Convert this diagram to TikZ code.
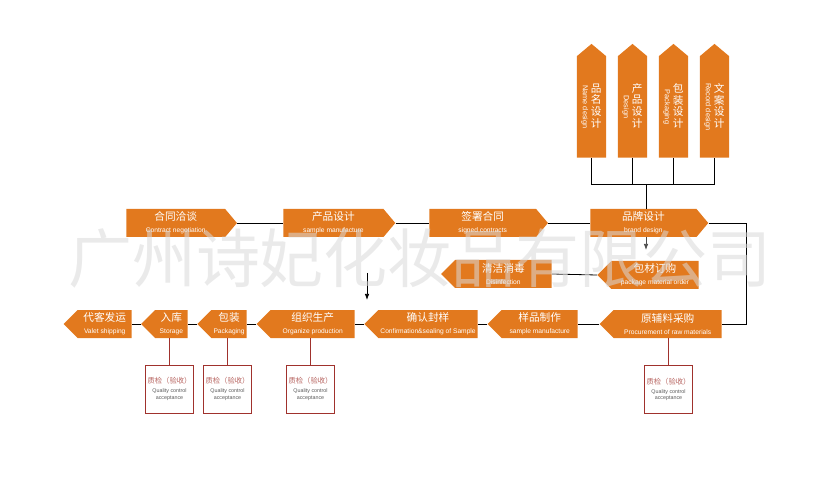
\documentclass[tikz,border=0pt]{standalone}
\usepackage{fontspec}
\setmainfont{Liberation Sans}
\newfontfamily\cjk{Noto Sans CJK SC}
\usetikzlibrary{shapes.symbols,arrows.meta}
\definecolor{brandorange}{RGB}{226,121,30}
\definecolor{qcred}{RGB}{160,50,45}
\newcommand{\steptext}[2]{{\cjk\fontsize{8}{9}\selectfont #1}\\#2}
\newcommand{\qctext}{{\cjk\fontsize{5.5}{6}\selectfont\color{qcred!75}质检（验收）}\\[1.5pt]Quality control\\acceptance}
\newcommand{\vtext}[2]{$\vcenter{\hbox{\rotatebox{-90}{\fontsize{5.5}{6}\selectfont #2}}}$\hspace{2pt}$\vcenter{\hbox{\cjk\fontsize{8}{8.6}\selectfont\renewcommand{\arraystretch}{0.85}\begin{tabular}{@{}c@{}}#1\end{tabular}}}$}

\begin{document}
\begin{tikzpicture}[x=0.75pt, y=-0.75pt, >={Latex[length=1.6mm]},
  stepR/.style={signal, signal to=east, signal pointer angle=100, fill=brandorange, text=white, inner sep=0pt, minimum height=21pt, align=center, font=\fontsize{5}{9}\selectfont},
  stepL/.style={signal, signal to=west, signal pointer angle=90, fill=brandorange, text=white, inner sep=0pt, minimum height=21pt, align=center, font=\fontsize{5}{9}\selectfont},
  stepV/.style={signal, signal to=north, signal pointer angle=100, fill=brandorange, text=white, inner sep=0pt, minimum width=22pt, minimum height=82.5pt},
  qc/.style={draw=qcred, fill=white, inner sep=0pt, minimum width=36pt, minimum height=36pt, align=center, text=gray!70!black, font=\fontsize{4}{5}\selectfont},
  link/.style={draw=black, line width=0.6pt},
  qclink/.style={draw=qcred, line width=0.6pt}]
\useasboundingbox (0,0) rectangle (836,499);

% design branches on top
\node[stepV, anchor=south] (vname) at (591.5,158) {\vtext{品\\名\\设\\计}{Name design}};
\node[stepV, anchor=south] (vprod) at (632.5,158) {\vtext{产\\品\\设\\计}{Design}};
\node[stepV, anchor=south] (vpack) at (673.5,158) {\vtext{包\\装\\设\\计}{Packaging}};
\node[stepV, anchor=south] (vrecord) at (714.5,158) {\vtext{文\\案\\设\\计}{Record design}};
\coordinate (bus) at (646,184);

% first row
\node[stepR, minimum width=83pt, anchor=west] (contract) at (126,223) {\steptext{合同洽谈}{Contract negotiation}};
\node[stepR, minimum width=84pt, anchor=west] (sampleA) at (283,223) {\steptext{产品设计}{sample manufacture}};
\node[stepR, minimum width=89pt, anchor=west] (signed) at (429,223) {\steptext{签署合同}{signed contracts}};
\node[stepR, minimum width=88.5pt, anchor=west] (brand) at (590,223) {\steptext{品牌设计}{brand design}};
\coordinate (rloop) at (746,223);
\coordinate (drop) at (646,250);

% second row
\node[stepL, minimum width=83pt, anchor=east] (disinfect) at (552,274) {\steptext{清洁消毒}{Disinfection}};
\node[stepL, minimum width=76pt, anchor=east] (pkgorder) at (699,275) {\steptext{包材订购}{package material order}};
\coordinate (hintA) at (367,273);
\coordinate (hintB) at (367,300);

% third row
\node[stepL, minimum width=51pt, anchor=east] (valet) at (132,324) {\steptext{代客发运}{Valet shipping}};
\node[stepL, minimum width=35pt, anchor=east] (storage) at (188,324) {\steptext{入库}{Storage}};
\node[stepL, minimum width=37pt, anchor=east] (packaging) at (247,324) {\steptext{包装}{Packaging}};
\node[stepL, minimum width=73.5pt, anchor=east] (organize) at (355,324) {\steptext{组织生产}{Organize production}};
\node[stepL, minimum width=85pt, anchor=east] (confirm) at (478,324) {\steptext{确认封样}{Confirmation\&sealing of Sample}};
\node[stepL, minimum width=67.5pt, anchor=east] (sampleB) at (578,324) {\steptext{样品制作}{sample manufacture}};
\node[stepL, minimum width=91.5pt, anchor=east] (procure) at (722,324) {\steptext{原辅料采购}{Procurement of raw materials}};

% quality control
\node[qc] (qcstore) at (169.5,389) {\qctext};
\node[qc] (qcpack) at (227.5,389) {\qctext};
\node[qc] (qcorg) at (310.5,389) {\qctext};
\node[qc] (qcproc) at (668.5,389.5) {\qctext};

\draw[link] (vname.south) -- (vname.south |- bus) -- (vrecord.south |- bus) -- (vrecord.south);
\draw[link] (vprod.south) -- (vprod.south |- bus);
\draw[link] (vpack.south) -- (vpack.south |- bus);
\draw[link] (bus) -- (bus |- brand.north);
\draw[link] (contract.east) -- (sampleA.west);
\draw[link] (sampleA.east) -- (signed.west);
\draw[link] (signed.east) -- (brand.west);
\draw[link] (brand.east) -- (rloop) |- (procure.east);
\draw[link, ->, gray!60!black] (brand.south -| drop) -- (drop);
\draw[link] (pkgorder.west) -- (disinfect.east);
\draw[link, ->] (hintA) -- (hintB);
\draw[link] (procure.west) -- (sampleB.east);
\draw[link] (sampleB.west) -- (confirm.east);
\draw[link] (confirm.west) -- (organize.east);
\draw[link] (organize.west) -- (packaging.east);
\draw[link] (packaging.west) -- (storage.east);
\draw[link] (storage.west) -- (valet.east);
\draw[qclink] (qcstore.north |- storage.south) -- (qcstore.north);
\draw[qclink] (qcpack.north |- packaging.south) -- (qcpack.north);
\draw[qclink] (qcorg.north |- organize.south) -- (qcorg.north);
\draw[qclink] (qcproc.north |- procure.south) -- (qcproc.north);

% watermark
\node[text=gray!30, text opacity=0.55, font=\cjk\fontsize{48}{48}\selectfont] (mark) at (420,258) {广州诗妃化妆品有限公司};
\end{tikzpicture}
\end{document}
